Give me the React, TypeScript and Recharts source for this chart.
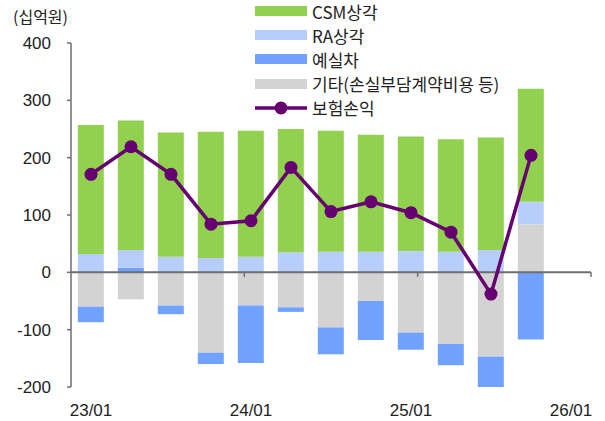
import React from "react";
import {
  ComposedChart,
  Bar,
  Line,
  XAxis,
  YAxis,
  ReferenceLine,
} from "recharts";

const periods = [
  "23/01", "23/04", "23/07", "23/10",
  "24/01", "24/04", "24/07", "24/10",
  "25/01", "25/04", "25/07", "25/10",
  "26/01",
];
const csm = [225, 226, 217, 220, 220, 215, 211, 204, 200, 196, 196, 197, null];
const ra = [32, 31, 27, 25, 27, 35, 36, 36, 37, 36, 39, 39, null];
const variance = [-27, 8, -15, -20, -100, -8, -47, -68, -30, -37, -57, -117, null];
const others = [-60, -47, -58, -140, -58, -61, -96, -50, -105, -125, -147, 84, null];
const insuranceProfit = [171, 219, 171, 84, 90, 183, 106, 123, 104, 70, -38, 204, null];
const yTicks = [-200, -100, 0, 100, 200, 300, 400];
const boundaryTicks = [4, 8, 12];

const COLORS = {
  csm: "#92D050",
  ra: "#B7CEFB",
  variance: "#71A2FF",
  others: "#D3D3D3",
  line: "#660070",
  axis: "#6E6E6E",
  text: "#222222",
};

const FONT = "'Liberation Sans', Arial, sans-serif";
const KFONT = "'Noto Sans CJK KR', 'Noto Sans', sans-serif";

const legendItems = [
  { name: "CSM상각", color: COLORS.csm, type: "bar" },
  { name: "RA상각", color: COLORS.ra, type: "bar" },
  { name: "예실차", color: COLORS.variance, type: "bar" },
  { name: "기타(손실부담계약비용 등)", color: COLORS.others, type: "bar" },
  { name: "보험손익", color: COLORS.line, type: "line" },
];

const data = periods.map((p, i) => ({
  period: p,
  csm: csm[i],
  ra: ra[i],
  variance: variance[i],
  others: others[i],
  net: insuranceProfit[i],
}));

function LegendBox() {
  return (
    <div
      style={{
        position: "absolute",
        left: 255,
        top: -1,
        fontFamily: KFONT,
        fontSize: 17,
        lineHeight: "19px",
        color: COLORS.text,
        zIndex: 2,
      }}
    >
      {legendItems.map((it) => (
        <div
          key={it.name}
          style={{ display: "flex", alignItems: "center", height: 24.2, whiteSpace: "nowrap" }}
        >
          <svg width={52} height={14} style={{ marginRight: 5, flex: "none" }}>
            {it.type === "bar" ? (
              <rect x={0} y={2} width={52} height={10} fill={it.color} />
            ) : (
              <g>
                <line x1={0} y1={7} x2={52} y2={7} stroke={it.color} strokeWidth={3.5} />
                <circle cx={26} cy={7} r={6.5} fill={it.color} />
              </g>
            )}
          </svg>
          <span>{it.name}</span>
        </div>
      ))}
    </div>
  );
}

function XTick(props: any) {
  const { x, y, payload } = props;
  return (
    <text
      x={x}
      y={y + 21}
      textAnchor="middle"
      fill={COLORS.text}
      fontFamily={FONT}
      fontSize={17}
    >
      {payload.value}
    </text>
  );
}

export default function App() {
  return (
    <div style={{ position: "absolute", left: 0, top: 0, width: 605, height: 421, background: "#fff" }}>
      <div
        style={{
          position: "absolute",
          left: 13,
          top: 6,
          fontFamily: KFONT,
          fontSize: 16,
          lineHeight: "20px",
          color: COLORS.text,
        }}
      >
        (십억원)
      </div>
      <LegendBox />
      <ComposedChart
        width={605}
        height={421}
        data={data}
        stackOffset="sign"
        barCategoryGap="17%"
        margin={{ top: 43, right: 14, bottom: 4, left: 0 }}
      >
        <XAxis
          dataKey="period"
          interval={3}
          axisLine={false}
          tickLine={false}
          height={30}
          tick={<XTick />}
        />
        <XAxis xAxisId="bounds" type="number" domain={[0, 13]} hide allowDataOverflow />
        <YAxis
          domain={[-200, 400]}
          ticks={yTicks}
          width={71}
          tickSize={4}
          tickMargin={16}
          axisLine={{ stroke: COLORS.axis, strokeWidth: 1.5 }}
          tickLine={{ stroke: COLORS.axis, strokeWidth: 1.5 }}
          tick={{ fill: COLORS.text, fontFamily: FONT, fontSize: 17 }}
          allowDataOverflow
        />
        <Bar dataKey="others" stackId="s" fill={COLORS.others} isAnimationActive={false} />
        <Bar dataKey="variance" stackId="s" fill={COLORS.variance} isAnimationActive={false} />
        <Bar dataKey="ra" stackId="s" fill={COLORS.ra} isAnimationActive={false} />
        <Bar dataKey="csm" stackId="s" fill={COLORS.csm} isAnimationActive={false} />
        <ReferenceLine y={0} stroke={COLORS.axis} strokeWidth={2} />
        {boundaryTicks.map((t) => (
          <ReferenceLine
            key={t}
            xAxisId="bounds"
            segment={[{ x: t, y: 0 }, { x: t, y: -8 }]}
            stroke={COLORS.axis}
            strokeWidth={1.5}
          />
        ))}
        <Line
          dataKey="net"
          stroke={COLORS.line}
          strokeWidth={3.5}
          dot={{ r: 6.5, fill: COLORS.line, stroke: COLORS.line, strokeWidth: 0 }}
          activeDot={false}
          isAnimationActive={false}
        />
      </ComposedChart>
    </div>
  );
}
